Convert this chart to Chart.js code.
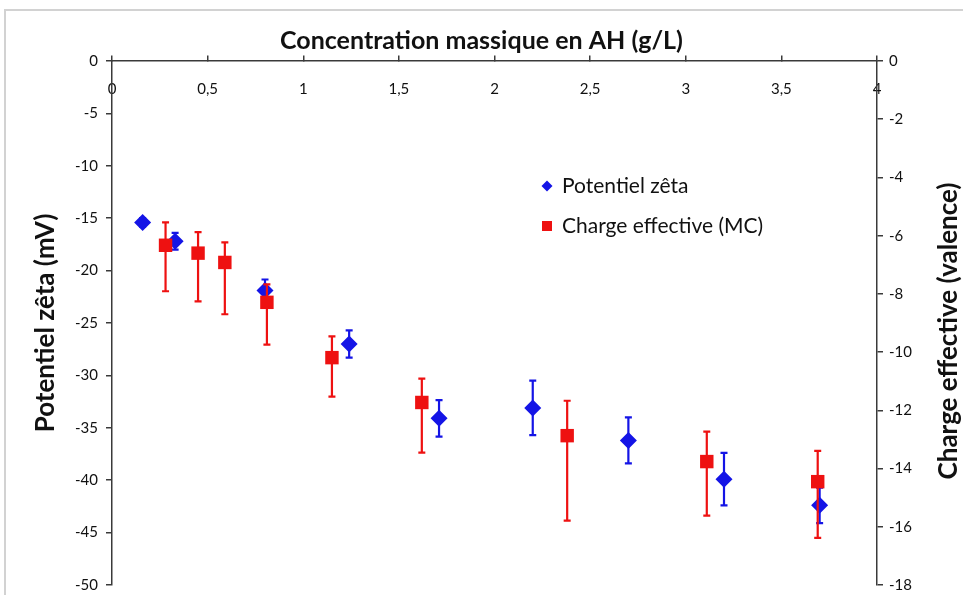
<!DOCTYPE html>
<html>
<head>
<meta charset="utf-8">
<script src="https://cdn.jsdelivr.net/npm/chart.js@4.4.1/dist/chart.umd.min.js"></script>
<style>
  html, body { margin: 0; padding: 0; background: #fff; overflow: hidden; }
  #wrap { position: relative; width: 963px; height: 595px; overflow: hidden; }
  #frame { position: absolute; left: 4px; top: 9px; width: 1000px; height: 1000px;
           border-left: 2px solid #d2d2d2; border-top: 2px solid #d2d2d2; }
  canvas { position: absolute; left: 0; top: 0; }
</style>
</head>
<body>
<div id="wrap">
  <div id="frame"></div>
  <canvas id="chart" width="963" height="602"></canvas>
</div>
<script>
// Potentiel zêta (mV), left axis
const zetaX = [0.16, 0.33, 0.80, 1.24, 1.71, 2.20, 2.70, 3.20, 3.70];
const zetaY = [-15.4, -17.2, -21.9, -27.0, -34.1, -33.1, -36.2, -39.9, -42.4];
const zetaErr = [0.4, 0.8, 1.05, 1.3, 1.75, 2.6, 2.2, 2.5, 1.7];

// Charge effective (MC, valence), right axis - asymmetric errors
const chargeX = [0.28, 0.45, 0.59, 0.81, 1.15, 1.62, 2.38, 3.11, 3.69];
const chargeY = [-6.33, -6.60, -6.92, -8.29, -10.19, -11.73, -12.87, -13.76, -14.45];
const chargeErrUp = [0.79, 0.72, 0.69, 0.62, 0.73, 0.82, 1.20, 1.03, 1.06];
const chargeErrDown = [1.58, 1.66, 1.78, 1.45, 1.34, 1.72, 2.92, 1.86, 1.93];

// axis ranges and titles
const xRange = [0, 4];
const zetaRange = [-50, 0];
const chargeRange = [-18, 0];
const titleText = 'Concentration massique en AH (g/L)';
const zetaLabel = 'Potentiel zêta';
const chargeLabel = 'Charge effective (MC)';
const zetaAxisTitle = 'Potentiel zêta (mV)';
const chargeAxisTitle = 'Charge effective (valence)';

const FONT = "Lato, 'Open Sans', sans-serif";
const INK = '#111111';
const AXIS = '#3a3a3a';
const BLUE = '#1414e6';
const RED = '#ee1111';

Chart.defaults.font.family = FONT;
Chart.defaults.color = INK;

const toPoints = (xs, ys) => xs.map((x, i) => ({ x, y: ys[i] }));

// error bars, drawn just before each dataset's markers
const errorBars = {
    id: 'errorBars',
    beforeDatasetDraw(chart, args) {
        const ds = chart.data.datasets[args.index];
        if (!ds.errUp) return;
        const xs = chart.scales.x;
        const ys = chart.scales[ds.yAxisID];
        const ctx = chart.ctx;
        ctx.save();
        ctx.strokeStyle = ds.barColor;
        ctx.lineWidth = 2.2;
        ds.data.forEach((p, i) => {
            const px = xs.getPixelForValue(p.x);
            const top = ys.getPixelForValue(p.y + ds.errUp[i]);
            const bot = ys.getPixelForValue(p.y - ds.errDown[i]);
            ctx.beginPath();
            ctx.moveTo(px, top); ctx.lineTo(px, bot);
            ctx.moveTo(px - 3.5, top); ctx.lineTo(px + 3.5, top);
            ctx.moveTo(px - 3.5, bot); ctx.lineTo(px + 3.5, bot);
            ctx.stroke();
        });
        ctx.restore();
    }
};

// right axis title (reads bottom to top) and the floating legend
const extras = {
    id: 'extras',
    afterDraw(chart) {
        const ctx = chart.ctx;
        const area = chart.chartArea;
        ctx.save();
        ctx.fillStyle = INK;
        ctx.font = 'bold 26px ' + FONT;
        ctx.textAlign = 'center';
        ctx.textBaseline = 'middle';
        ctx.translate(chart.scales.y1.right - 14, (area.top + area.bottom) / 2 + 8);
        ctx.rotate(-Math.PI / 2);
        ctx.fillText(chargeAxisTitle, 0, 0);
        ctx.restore();

        const lx = area.left + 435;
        const ly = area.top + 125;
        ctx.save();
        ctx.font = '21px ' + FONT;
        ctx.textBaseline = 'middle';
        ctx.fillStyle = INK;
        ctx.fillText(zetaLabel, lx + 15, ly);
        ctx.fillText(chargeLabel, lx + 15, ly + 40);
        ctx.fillStyle = BLUE;
        ctx.beginPath();
        ctx.moveTo(lx, ly - 5.5); ctx.lineTo(lx + 5.5, ly); ctx.lineTo(lx, ly + 5.5); ctx.lineTo(lx - 5.5, ly);
        ctx.closePath(); ctx.fill();
        ctx.fillStyle = RED;
        ctx.fillRect(lx - 5, ly + 35, 10, 10);
        ctx.restore();
    }
};

const tickFont = { size: 15, family: FONT };

new Chart(document.getElementById('chart'), {
    type: 'scatter',
    data: {
        datasets: [
            {
                label: zetaLabel,
                data: toPoints(zetaX, zetaY),
                yAxisID: 'y',
                errUp: zetaErr,
                errDown: zetaErr,
                barColor: BLUE,
                backgroundColor: BLUE,
                borderColor: BLUE,
                pointStyle: 'rectRot',
                pointRadius: 8.5,
                borderWidth: 0,
                order: 2
            },
            {
                label: chargeLabel,
                data: toPoints(chargeX, chargeY),
                yAxisID: 'y1',
                errUp: chargeErrUp,
                errDown: chargeErrDown,
                barColor: RED,
                backgroundColor: RED,
                borderColor: RED,
                pointStyle: 'rect',
                pointRadius: 9.5,
                borderWidth: 0,
                order: 1
            }
        ]
    },
    options: {
        responsive: false,
        animation: false,
        layout: { padding: { top: 0, bottom: 0, left: 0, right: 0 } },
        plugins: {
            legend: { display: false },
            tooltip: { enabled: false },
            title: {
                display: true,
                text: titleText,
                color: INK,
                font: { size: 25, weight: 'bold', family: FONT },
                padding: { top: 26, bottom: 5 }
            }
        },
        scales: {
            x: {
                type: 'linear',
                position: { y: 0 },
                min: xRange[0],
                max: xRange[1],
                grid: { drawOnChartArea: false, tickLength: -6, color: AXIS, lineWidth: 1.5 },
                border: { color: AXIS, width: 1.5 },
                ticks: {
                    stepSize: 0.5,
                    padding: 25,
                    font: tickFont,
                    color: INK,
                    maxRotation: 0,
                    callback: v => String(v).replace('.', ',')
                }
            },
            y: {
                position: 'left',
                min: zetaRange[0],
                max: zetaRange[1],
                grid: { drawOnChartArea: false, tickLength: 6, color: AXIS, lineWidth: 1.5 },
                border: { color: AXIS, width: 1.5 },
                ticks: { stepSize: 5, padding: 8, font: tickFont, color: INK },
                title: {
                    display: true,
                    text: zetaAxisTitle,
                    color: INK,
                    font: { size: 26, weight: 'bold', family: FONT },
                    padding: { top: 30, bottom: 0 }
                },
                afterFit(scale) { scale.width = 112; }
            },
            y1: {
                position: 'right',
                min: chargeRange[0],
                max: chargeRange[1],
                grid: { drawOnChartArea: false, tickLength: 6, color: AXIS, lineWidth: 1.5 },
                border: { color: AXIS, width: 1.5 },
                ticks: { stepSize: 2, padding: 6, font: tickFont, color: INK },
                afterFit(scale) { scale.width = 86; }
            }
        }
    },
    plugins: [errorBars, extras]
});
</script>
</body>
</html>
